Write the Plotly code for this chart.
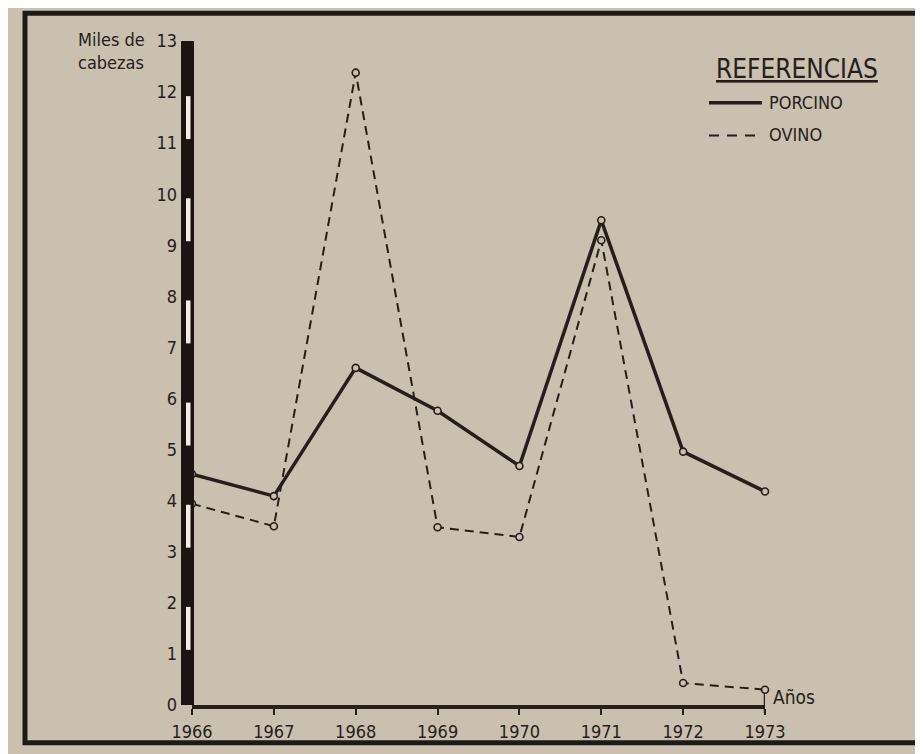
import plotly.graph_objects as go

years = [1966, 1967, 1968, 1969, 1970, 1971, 1972, 1973]
porcino = [4.52, 4.09, 6.6, 5.76, 4.68, 9.49, 4.96, 4.18]
ovino = [3.94, 3.5, 12.38, 3.48, 3.29, 9.1, 0.43, 0.3]
y_ticks = list(range(0, 14))
x_tick_labels = ["1966", "1967", "1968", "1969", "1970", "1971", "1972", "1973"]

INK = "#261e1a"
BG = "#c9c0b0"
FONT = "DejaVu Sans Condensed"

# page offset (browser body margin)
OFF = 8
FIG_W, FIG_H = 923 - OFF, 754 - OFF
# target plot area in screenshot pixels
PX_L, PX_R, PX_T, PX_B = 192, 765, 41, 708
L = PX_L - OFF
T = PX_T - OFF
W = PX_R - PX_L
H = PX_B - PX_T
R = FIG_W - L - W
B = FIG_H - T - H

def px(xp):
    return (xp - PX_L) / W

def py(yp):
    return (PX_B - yp) / H

fig = go.Figure()
fig.add_trace(go.Scatter(
    x=years, y=porcino, mode="lines+markers", name="PORCINO",
    line=dict(color=INK, width=3.5),
    marker=dict(symbol="circle", size=7, color=BG, line=dict(color=INK, width=1.6)),
    showlegend=False, cliponaxis=False))
fig.add_trace(go.Scatter(
    x=years, y=ovino, mode="lines+markers", name="OVINO",
    line=dict(color=INK, width=2, dash="9px,6px"),
    marker=dict(symbol="circle", size=7, color=BG, line=dict(color=INK, width=1.6)),
    showlegend=False, cliponaxis=False))

shapes = []
# outer frame
shapes.append(dict(type="rect", xref="paper", yref="paper",
                   x0=px(25), x1=px(935), y0=py(746), y1=py(13),
                   line=dict(color="#1e1a17", width=5), layer="below"))
# y-axis bar (black with white segments)
shapes.append(dict(type="rect", xref="paper", yref="y",
                   x0=px(181), x1=px(194), y0=-0.07, y1=13.05,
                   fillcolor="#1a1512", line=dict(width=0), layer="above"))
for k in range(1, 13, 2):
    shapes.append(dict(type="rect", xref="paper", yref="y",
                       x0=px(186), x1=px(190.5), y0=k + 0.08, y1=k + 1 - 0.08,
                       fillcolor="#f2eee6", line=dict(width=0), layer="above"))
# end tick at 1973
shapes.append(dict(type="line", xref="x", yref="paper",
                   x0=1973, x1=1973, y0=py(716), y1=py(697),
                   line=dict(color=INK, width=2.5)))
# legend lines
shapes.append(dict(type="line", xref="paper", yref="paper",
                   x0=px(709), x1=px(762), y0=py(103), y1=py(103),
                   line=dict(color=INK, width=3.5)))
shapes.append(dict(type="line", xref="paper", yref="paper",
                   x0=px(709), x1=px(762), y0=py(136), y1=py(136),
                   line=dict(color=INK, width=2, dash="10px,8px")))

annotations = [
    dict(text="Miles de<br>cabezas", xref="paper", yref="paper",
         x=px(76), y=py(27), xanchor="left", yanchor="top", align="left",
         showarrow=False, font=dict(family=FONT, size=18, color=INK)),
    dict(text="Años", xref="x", yref="paper", x=1973, y=py(700),
         xanchor="left", yanchor="middle", xshift=6, showarrow=False,
         font=dict(family=FONT, size=19, color=INK)),
    dict(text="<u>REFERENCIAS</u>", xref="paper", yref="paper",
         x=px(714), y=py(69), xanchor="left", yanchor="middle",
         showarrow=False, font=dict(family=FONT, size=26, color=INK)),
    dict(text="PORCINO", xref="paper", yref="paper",
         x=px(767), y=py(103), xanchor="left", yanchor="middle",
         showarrow=False, font=dict(family=FONT, size=18, color=INK)),
    dict(text="OVINO", xref="paper", yref="paper",
         x=px(767), y=py(135), xanchor="left", yanchor="middle",
         showarrow=False, font=dict(family=FONT, size=18, color=INK)),
]

fig.update_layout(
    width=FIG_W, height=FIG_H,
    margin=dict(l=L, r=R, t=T, b=B, pad=0),
    paper_bgcolor=BG, plot_bgcolor=BG,
    shapes=shapes, annotations=annotations,
    showlegend=False,
    xaxis=dict(range=[1966, 1973], tickmode="array", tickvals=years,
               ticktext=x_tick_labels, showgrid=False, zeroline=False,
               showline=True, linecolor=INK, linewidth=4,
               ticks="outside", ticklen=6, tickwidth=2, tickcolor=INK,
               ticklabelstandoff=1,
               tickfont=dict(family=FONT, size=18, color=INK)),
    yaxis=dict(range=[0, 13], tickmode="array", tickvals=y_ticks,
               ticktext=[str(v) for v in y_ticks], showgrid=False,
               zeroline=False, showline=False, ticks="",
               ticklabelstandoff=14,
               tickfont=dict(family=FONT, size=18, color=INK)),
)

fig.write_html("out.html")
